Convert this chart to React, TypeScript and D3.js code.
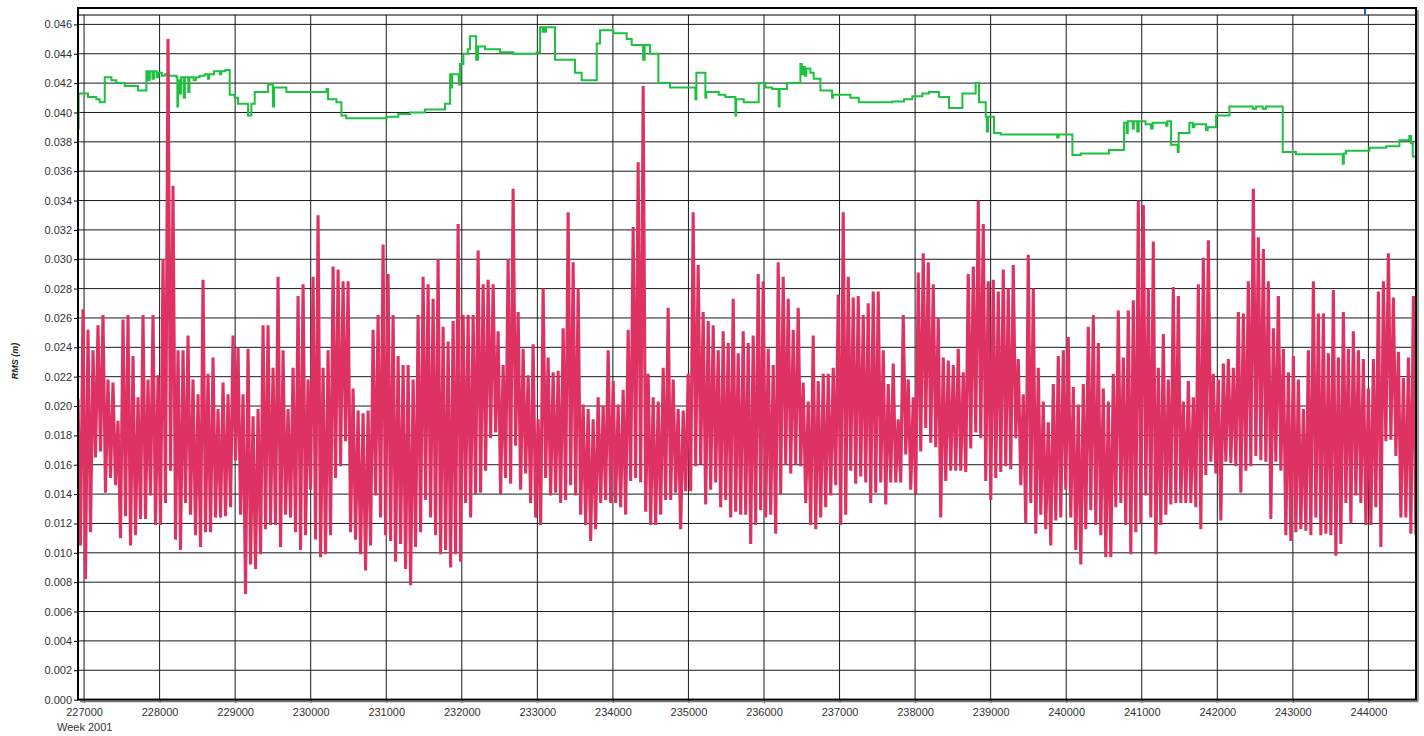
import React, { useEffect, useRef } from 'react';
import * as d3 from 'd3';

// Week 2001 seconds on x, RMS in millimetres (labels are shown in metres)
const xTickValues = [
  227000, 228000, 229000, 230000, 231000, 232000, 233000, 234000, 235000,
  236000, 237000, 238000, 239000, 240000, 241000, 242000, 243000, 244000,
];
const yTickValues = [0, 2, 4, 6, 8, 10, 12, 14, 16, 18, 20, 22, 24, 26, 28, 30, 32, 34, 36, 38, 40, 42, 44, 46];
const xDomain: [number, number] = [226920, 244630];

// red series: dense epoch RMS, kept as max / min per sampling bin
const redStart = 226920;
const redStep = 66.2;
const rmsHi = [
  20.5, 26.6, 25.2, 23.8, 25.5, 26.2, 21.8, 21.6, 19.0, 25.9, 26.2, 23.4, 20.6, 26.2, 21.8, 26.2, 22.1, 30.0, 45.0, 35.0,
  23.8, 23.8, 24.8, 21.8, 20.8, 28.6, 22.2, 23.3, 19.8, 21.6, 20.8, 24.8, 24.0, 20.8, 23.9, 19.3, 19.8, 25.5, 25.5, 22.6,
  28.8, 23.8, 19.8, 22.6, 27.5, 28.3, 21.8, 28.8, 33.0, 22.6, 23.8, 29.5, 29.3, 28.5,
  28.5, 21.2, 19.7, 19.5, 19.7, 25.2, 26.2, 31.0, 29.0, 26.2, 23.4, 22.8, 22.8, 21.8, 26.2, 28.8, 28.3, 27.3, 30.0, 25.4,
  24.4, 25.8, 32.4, 26.2, 26.2, 26.2, 30.6, 28.3, 28.6, 28.3, 25.1, 22.8, 30.0, 34.8, 26.4, 23.9, 22.1, 24.2, 19.1, 28.0,
  23.3, 22.3, 22.4, 25.3, 33.2, 29.8, 28.0, 20.1, 19.8, 19.1, 20.6, 20.0, 23.8,
  21.7, 20.1, 21.1, 25.2, 32.2, 36.6, 41.8, 22.2, 20.6, 20.3, 22.6, 26.7, 21.8, 19.8, 19.7, 22.2, 33.2, 29.6, 26.4, 25.8,
  25.5, 23.8, 25.1, 24.3, 27.3, 23.6, 25.1, 24.3, 24.8, 29.0, 28.5, 23.9, 22.8, 29.8, 28.8, 27.3, 25.2, 26.7, 21.6, 20.3,
  24.8, 21.7, 22.2, 22.2, 22.6, 27.6, 33.2, 28.8, 27.4, 27.5, 26.2, 27.0, 27.8,
  27.8, 23.8, 21.5, 22.9, 19.1, 26.2, 21.8, 20.6, 29.1, 30.4, 29.8, 28.3, 26.0, 23.3, 23.1, 22.8, 23.9, 22.3, 29.0, 29.5,
  34.0, 32.4, 28.5, 28.6, 27.8, 29.3, 28.0, 29.6, 23.2, 20.8, 30.3, 28.0, 22.6, 20.3, 18.9, 21.5, 23.4, 23.8, 24.7, 21.3,
  20.1, 21.5, 25.4, 26.2, 24.3, 21.2, 20.3, 22.2, 26.5, 23.3, 26.5, 27.2, 34.0, 33.7,
  28.0, 31.2, 22.6, 24.9, 21.8, 28.1, 27.5, 20.3, 21.7, 20.6, 28.3, 30.1, 31.3, 22.2, 21.8, 22.9, 23.2, 22.6, 26.4, 26.3,
  28.5, 34.8, 31.5, 30.7, 28.5, 25.3, 27.5, 23.9, 22.3, 23.4, 21.8, 19.8, 23.8, 28.5, 26.3, 26.3, 23.6, 27.9, 23.3, 26.4,
  23.9, 25.1, 23.8, 23.2, 21.2, 23.2, 27.8, 28.5, 30.4, 27.4, 23.7, 21.9, 23.3, 27.5,
];
const rmsLo = [
  10.5, 8.2, 11.4, 16.5, 16.9, 14.1, 15.1, 14.6, 11.0, 12.5, 10.5, 11.2, 12.3, 12.3, 13.9, 11.9, 11.9, 13.4, 15.6, 10.9,
  10.2, 13.4, 12.6, 11.2, 10.4, 11.4, 11.4, 12.4, 12.4, 12.5, 13.1, 16.3, 12.6, 7.2, 9.2, 8.9, 9.9, 11.6, 11.9, 11.9,
  10.4, 12.6, 12.4, 11.4, 10.2, 11.2, 14.3, 10.9, 9.7, 9.9, 11.2, 15.1, 15.9, 17.6,
  11.4, 10.9, 9.9, 8.8, 10.5, 13.9, 12.4, 11.2, 10.8, 9.4, 10.6, 8.9, 7.8, 10.4, 11.4, 13.6, 12.4, 11.2, 9.9, 10.2,
  9.0, 9.9, 9.4, 13.4, 12.4, 14.0, 14.1, 15.6, 17.8, 18.2, 14.0, 15.1, 14.7, 17.3, 14.3, 15.4, 13.4, 12.4, 11.9, 15.1,
  13.9, 14.1, 13.4, 13.6, 14.6, 13.9, 12.6, 11.9, 10.8, 11.6, 13.4, 13.6, 13.4,
  13.4, 13.1, 12.6, 14.9, 15.1, 14.8, 12.8, 11.9, 11.9, 12.6, 13.6, 13.6, 14.1, 11.6, 14.2, 14.2, 15.9, 16.0, 13.3, 14.3,
  14.8, 13.1, 13.6, 12.4, 12.8, 12.6, 12.6, 10.6, 11.9, 12.9, 12.4, 12.6, 11.3, 14.0, 16.0, 15.4, 16.0, 15.9, 13.4, 11.9,
  11.6, 12.4, 13.1, 13.9, 14.6, 11.9, 12.6, 15.6, 14.7, 15.2, 14.8, 13.4, 14.1,
  14.8, 13.3, 14.8, 14.8, 14.8, 16.7, 14.3, 14.0, 16.9, 18.5, 17.5, 17.2, 12.4, 14.9, 15.6, 15.6, 15.6, 15.5, 17.1, 18.2,
  17.8, 14.9, 13.6, 15.1, 15.5, 15.9, 15.7, 17.8, 14.6, 12.0, 13.4, 11.3, 12.6, 11.6, 10.5, 12.2, 12.4, 14.3, 12.4, 10.2,
  9.2, 11.6, 12.9, 11.9, 11.2, 9.7, 9.7, 13.1, 13.4, 11.9, 9.9, 11.4, 12.0, 13.9,
  12.4, 9.9, 11.9, 12.6, 13.3, 13.4, 13.4, 13.4, 13.4, 13.1, 11.6, 15.3, 16.2, 15.4, 12.2, 16.2, 16.1, 15.9, 14.1, 15.6,
  15.9, 16.6, 16.3, 16.2, 12.3, 16.2, 15.6, 11.2, 10.8, 11.4, 11.6, 11.5, 11.2, 12.4, 11.2, 11.3, 11.2, 9.8, 10.6, 13.4,
  12.0, 13.9, 13.4, 11.9, 11.9, 13.1, 10.4, 17.6, 17.7, 16.6, 12.4, 12.4, 11.3, 11.2,
];

// green series: step values [week seconds, mm]
const greenSteps: [number, number][] = [
  [226921, 38.9], [226928, 41.3], [227053, 41.05], [227163, 40.9], [227207, 40.7], [227274, 42.4], [227362, 42.2],
  [227428, 42.0], [227538, 41.8], [227715, 41.5], [227825, 42.8], [227850, 42.2], [227870, 42.8], [227905, 42.3],
  [227925, 42.8], [227960, 42.4], [227985, 42.7], [228030, 42.5], [228070, 42.6], [228112, 42.5], [228222, 42.4],
  [228235, 40.4], [228245, 42.2], [228270, 41.3], [228285, 42.4], [228320, 41.0], [228335, 42.4], [228380, 41.4],
  [228395, 42.4], [228450, 42.2], [228480, 42.4], [228530, 42.5], [228597, 42.6], [228640, 42.3], [228655, 42.6],
  [228720, 42.8], [228800, 42.6], [228815, 42.8], [228870, 42.9], [228928, 41.2], [228994, 41.0], [229038, 40.6],
  [229171, 39.8], [229215, 40.6], [229259, 41.4], [229436, 41.9], [229500, 40.4], [229515, 41.7], [229678, 41.4],
  [230208, 41.6], [230230, 40.9], [230340, 40.7], [230406, 39.8], [230470, 39.6], [230587, 39.6], [231006, 39.7],
  [231160, 39.9], [231315, 40.0], [231513, 40.2], [231778, 40.6], [231845, 42.6], [231860, 41.7], [231870, 42.6],
  [231960, 41.9], [231975, 43.3], [232021, 44.0], [232080, 44.3], [232109, 45.2], [232190, 43.6], [232215, 44.5],
  [232308, 44.3], [232506, 44.1], [232683, 44.0], [232992, 44.1], [233036, 45.8], [233070, 45.5], [233080, 45.8],
  [233100, 45.5], [233115, 45.8], [233234, 43.6], [233499, 42.7], [233587, 42.2], [233786, 44.7], [233830, 45.6],
  [234006, 45.4], [234183, 45.0], [234249, 44.6], [234400, 43.6], [234420, 44.6], [234492, 44.0], [234602, 42.0],
  [234756, 41.7], [235092, 40.9], [235105, 42.7], [235224, 41.0], [235236, 41.4], [235401, 41.2], [235489, 41.05],
  [235621, 39.8], [235632, 40.9], [235732, 40.7], [235930, 42.0], [236019, 41.7], [236107, 41.6], [236195, 40.4],
  [236206, 41.6], [236305, 42.0], [236482, 43.3], [236500, 42.6], [236520, 43.1], [236540, 42.5], [236560, 43.0],
  [236614, 42.7], [236658, 42.3], [236747, 41.5], [236901, 41.0], [236912, 41.2], [237143, 41.0], [237254, 40.7],
  [237700, 40.75], [237854, 40.9], [237964, 41.1], [238096, 41.3], [238185, 41.4], [238317, 41.05], [238449, 40.3],
  [238626, 41.3], [238802, 42.0], [238846, 40.7], [238935, 39.7], [238950, 38.7], [238965, 39.7], [239045, 38.6],
  [239133, 38.5], [239880, 38.3], [239900, 38.5], [240082, 37.1], [240192, 37.2], [240567, 37.45], [240766, 39.3],
  [240800, 38.6], [240815, 39.4], [240880, 38.9], [240895, 39.4], [240940, 38.7], [240960, 39.4], [241050, 39.2],
  [241123, 38.9], [241145, 39.3], [241322, 39.1], [241340, 39.4], [241388, 37.8], [241476, 37.3], [241489, 38.6],
  [241631, 39.3], [241675, 39.0], [241697, 39.2], [241851, 38.8], [241873, 39.0], [241984, 39.8], [242160, 40.4],
  [242469, 40.25], [242513, 40.4], [242601, 40.25], [242645, 40.4], [242866, 37.3], [243042, 37.15], [243660, 36.5],
  [243675, 37.2], [243704, 37.4], [244013, 37.6], [244234, 37.7], [244410, 38.1], [244542, 38.4], [244565, 37.9],
  [244587, 37.0], [244630, 36.95],
];

const markerWeekSec = 243955;

const FONT = '"Liberation Sans", Arial, sans-serif';
const RED = '#dd3262';

const App: React.FC = () => {
  const svgRef = useRef<SVGSVGElement>(null);

  useEffect(() => {
    if (!svgRef.current) return;
    const svg = d3.select(svgRef.current);
    svg.selectAll('*').remove();

    const left = 78;
    const right = 1416;
    const top = 15;
    const bottom = 699.6;

    const x = d3.scaleLinear().domain(xDomain).range([left, right]);
    const y = d3.scaleLinear().domain([0, 46]).range([bottom, 24.4]);

    svg.append('rect').attr('width', 1424).attr('height', 736).attr('fill', '#fff');

    // grid
    const grid = svg.append('g').attr('stroke', '#1a1a1a').attr('stroke-width', 1);
    grid.selectAll('line.h')
      .data(yTickValues.filter(v => v > 0))
      .join('line')
      .attr('x1', left).attr('x2', right)
      .attr('y1', d => y(d)).attr('y2', d => y(d));
    grid.selectAll('line.v')
      .data(xTickValues)
      .join('line')
      .attr('x1', d => x(d)).attr('x2', d => x(d))
      .attr('y1', top).attr('y2', bottom);

    // clip for the series
    svg.append('clipPath').attr('id', 'plot-clip')
      .append('rect').attr('x', left).attr('y', top).attr('width', right - left).attr('height', bottom - top);

    const series = svg.append('g').attr('clip-path', 'url(#plot-clip)');

    const greenLine = d3.line<[number, number]>()
      .x(d => x(d[0]))
      .y(d => y(d[1]))
      .curve(d3.curveStepAfter);

    series.append('path')
      .datum(greenSteps)
      .attr('fill', 'none')
      .attr('stroke', '#1cc13f')
      .attr('stroke-width', 2)
      .attr('d', greenLine);

    const redPoints: [number, number][] = rmsHi.flatMap((h, i) => [
      [redStart + i * redStep, h] as [number, number],
      [redStart + (i + 0.5) * redStep, rmsLo[i]] as [number, number],
    ]);

    const redLine = d3.line<[number, number]>()
      .x(d => x(d[0]))
      .y(d => y(d[1]));

    series.append('path')
      .datum(redPoints)
      .attr('fill', 'none')
      .attr('stroke', RED)
      .attr('stroke-width', 3.1)
      .attr('stroke-linejoin', 'bevel')
      .attr('d', redLine);

    // axes
    const yAxis = svg.append('g')
      .attr('transform', `translate(${left},0)`)
      .call(d3.axisLeft(y).tickValues(yTickValues).tickSize(4).tickPadding(2)
        .tickFormat(d => (+d / 1000).toFixed(3)));
    yAxis.select('.domain').remove();
    yAxis.attr('font-family', FONT).attr('font-size', 11);
    yAxis.selectAll('text').attr('fill', '#333');

    const xAxis = svg.append('g')
      .attr('transform', `translate(0,${bottom})`)
      .call(d3.axisBottom(x).tickValues(xTickValues).tickSize(3).tickPadding(6)
        .tickFormat(d3.format('d')));
    xAxis.select('.domain').remove();
    xAxis.attr('font-family', FONT).attr('font-size', 11);
    xAxis.selectAll('text').attr('fill', '#333');

    svg.append('text')
      .attr('x', 57).attr('y', 731)
      .attr('font-family', FONT).attr('font-size', 11).attr('fill', '#333')
      .text('Week 2001');

    svg.append('text')
      .attr('transform', 'translate(18,361) rotate(-90)')
      .attr('text-anchor', 'middle')
      .attr('font-family', FONT).attr('font-size', 9)
      .attr('font-weight', 'bold').attr('font-style', 'italic')
      .attr('fill', '#222')
      .text('RMS (m)');

    // frame
    svg.append('line').attr('x1', left + 2).attr('x2', right + 2).attr('y1', bottom + 2).attr('y2', bottom + 2)
      .attr('stroke', '#777').attr('stroke-width', 1.5);
    svg.append('line').attr('x1', right + 2).attr('x2', right + 2).attr('y1', 10).attr('y2', bottom + 2)
      .attr('stroke', '#777').attr('stroke-width', 1.5);
    svg.append('rect')
      .attr('x', left).attr('y', 8).attr('width', right - left).attr('height', bottom - 8)
      .attr('fill', 'none').attr('stroke', '#000').attr('stroke-width', 2);
    svg.append('line').attr('x1', left).attr('x2', right).attr('y1', top).attr('y2', top)
      .attr('stroke', '#000').attr('stroke-width', 1);
    svg.append('line')
      .attr('x1', x(markerWeekSec)).attr('x2', x(markerWeekSec)).attr('y1', 9).attr('y2', top)
      .attr('stroke', '#1565c0').attr('stroke-width', 2);
  }, []);

  return (
    <svg
      ref={svgRef}
      width={1424}
      height={736}
      style={{ position: 'absolute', left: 0, top: 0, display: 'block' }}
    />
  );
};

export default App;
